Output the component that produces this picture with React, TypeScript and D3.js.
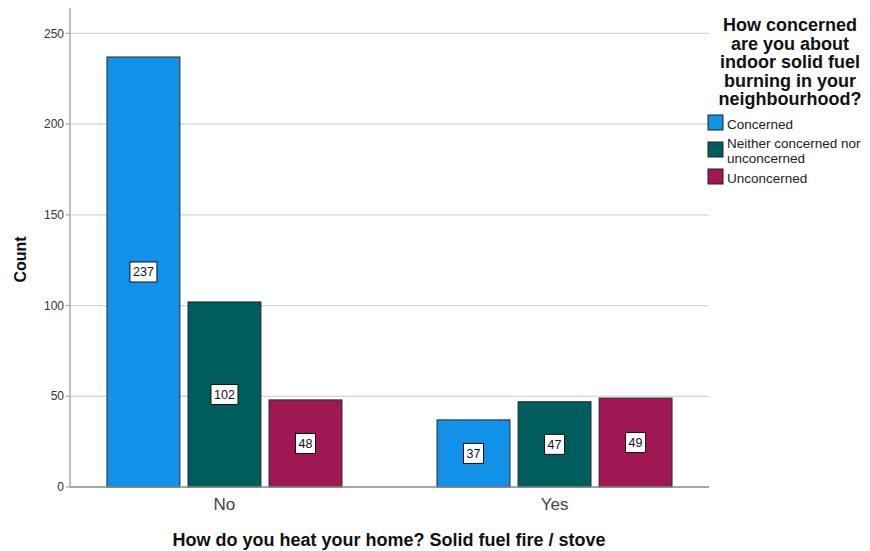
import React from "react";
import * as d3 from "d3";

const categories = ["No", "Yes"];
const seriesNames = ["Concerned", "Neither concerned nor unconcerned", "Unconcerned"];
const concerned = [237, 37];
const neither = [102, 47];
const unconcerned = [48, 49];
const yTicks = [0, 50, 100, 150, 200, 250];
const colors = ["#1192e8", "#005d5d", "#9f1853"];
const legendTitle = ["How concerned", "are you about", "indoor solid fuel", "burning in your", "neighbourhood?"];
const legendLabels = [["Concerned"], ["Neither concerned nor", "unconcerned"], ["Unconcerned"]];

const W = 870, H = 551;
const left = 70, right = 709, top = 8, bottom = 487;
const font = "Arial, 'Liberation Sans', sans-serif";

export default function App() {
  const series = [concerned, neither, unconcerned];
  const y = d3.scaleLinear().domain([0, 264]).range([bottom, top]);
  const x0 = d3.scalePoint<string>().domain(categories).range([left, right]).padding(0.468);
  const x1 = d3.scaleBand<number>().domain([0, 1, 2]).range([-117.5, 117.5]).paddingInner(0.1);
  const bw = x1.bandwidth();
  return (
    <svg width={W} height={H} style={{ position: "absolute", left: 0, top: 0, background: "#fff" }} fontFamily={font}>
      {yTicks.map((t) => (
        <g key={t}>
          {t > 0 && <line x1={left} x2={right} y1={y(t)} y2={y(t)} stroke="#d4d4d4" strokeWidth={1.3} />}
          <line x1={left - 4} x2={left} y1={y(t)} y2={y(t)} stroke="#aaa" strokeWidth={1.3} />
          <text x={left - 6} y={y(t)} dy="0.35em" textAnchor="end" fontSize={12} fill="#333">{t}</text>
        </g>
      ))}
      {categories.map((c, ci) =>
        series.map((s, si) => {
          const bx = (x0(c) as number) + (x1(si) as number);
          const by = y(s[ci]);
          const bh = bottom - by;
          const label = String(s[ci]);
          const lw = label.length * 7 + 6;
          const cy = by + bh / 2;
          return (
            <g key={c + si}>
              <rect x={bx} y={by} width={bw} height={bh} fill={colors[si]} stroke="#2a2a2a" strokeWidth={1} />
              <rect x={bx + bw / 2 - lw / 2} y={cy - 10} width={lw} height={20} fill="#fff" stroke="#111" strokeWidth={1} />
              <text x={bx + bw / 2} y={cy} dy="0.36em" textAnchor="middle" fontSize={12.5} fill="#111">{label}</text>
            </g>
          );
        })
      )}
      <line x1={left} x2={left} y1={top} y2={bottom} stroke="#aaa" strokeWidth={1.5} />
      <line x1={left} x2={right} y1={bottom} y2={bottom} stroke="#888" strokeWidth={1.3} />
      {categories.map((c) => (
        <text key={c} x={x0(c) as number} y={504} dy="0.35em" textAnchor="middle" fontSize={17} fill="#444">{c}</text>
      ))}
      <text x={389} y={540} dy="0.35em" textAnchor="middle" fontSize={18} fontWeight="bold" fill="#111">
        How do you heat your home? Solid fuel fire / stove
      </text>
      <text transform={`translate(20,${(top + bottom) / 2 + 12}) rotate(-90)`} dy="0.35em" textAnchor="middle" fontSize={16} fontWeight="bold" fill="#111">Count</text>
      {legendTitle.map((l, i) => (
        <text key={l} x={790} y={25 + i * 18.5} dy="0.35em" textAnchor="middle" fontSize={18} fontWeight="bold" fill="#111">{l}</text>
      ))}
      {seriesNames.map((n, i) => {
        const sy = [115, 142, 169][i];
        const lines = legendLabels[i];
        const ty0 = lines.length > 1 ? sy + 1.5 : sy + 9;
        return (
          <g key={n}>
            <rect x={708} y={sy} width={15} height={15} fill={colors[i]} stroke="#222" strokeWidth={1} />
            {lines.map((t, j) => (
              <text key={t} x={727} y={ty0 + j * 15} dy="0.35em" fontSize={13.5} fill="#222">{t}</text>
            ))}
          </g>
        );
      })}
    </svg>
  );
}
